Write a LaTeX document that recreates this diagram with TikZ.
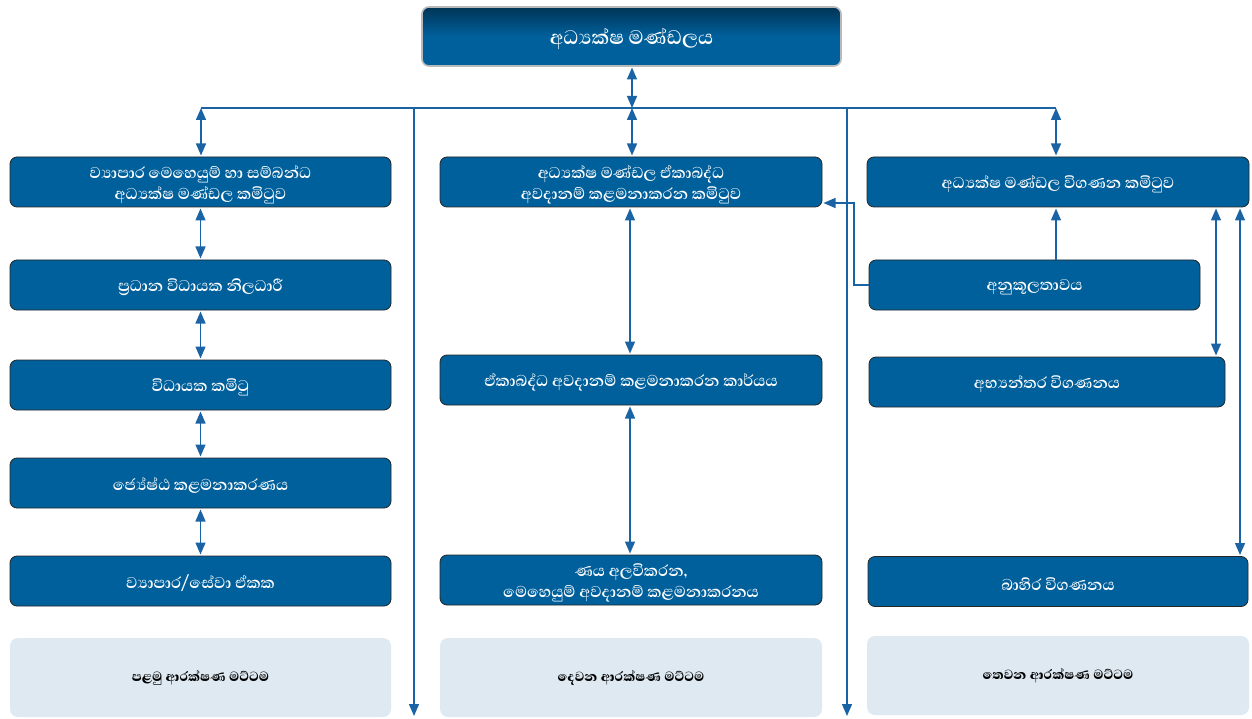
\documentclass[tikz,border=0pt]{standalone}
\usepackage{fontspec}
\newfontfamily\sinhfont[Script=Sinhala]{Abhaya Libre}
\newfontfamily\sinhxb[Script=Sinhala]{Abhaya Libre ExtraBold}
\usetikzlibrary{arrows.meta,calc}
\definecolor{boxblue}{HTML}{00609C}
\definecolor{lineblue}{HTML}{1A64A6}
\definecolor{pale}{HTML}{DEE9F2}
\newcommand\dn[1]{\raisebox{-2.5pt}[\height][\depth]{#1}}
\tikzset{
  bx/.style={draw=black!85, line width=0.8pt, fill=boxblue, rounded corners=7pt,
    text=white, font=\sinhfont\bfseries\fontsize{20}{21}\selectfont, align=center,
    inner sep=0pt, outer sep=0pt},
  topbx/.style={bx, draw=gray!55, line width=1.6pt, top color=boxblue!55!black,
    bottom color=boxblue, middle color=boxblue, font=\sinhfont\bfseries\fontsize{25}{27}\selectfont},
  lvl/.style={fill=pale, rounded corners=8pt, text=black,
    font=\sinhxb\fontsize{17}{19}\selectfont, inner sep=0pt, outer sep=0pt},
  ln/.style={draw=lineblue, line width=1.4pt},
  tip/.tip={Triangle[width=10pt,length=12pt]},
  one/.style={ln, -tip},
  dbl/.style={ln, tip-tip, shorten <=1.5pt, shorten >=1.5pt},
}
\begin{document}
\begin{tikzpicture}[x=1pt,y=-1pt]
\useasboundingbox (0,0) rectangle (1252,719);
% top
\node[topbx, minimum width=419pt, minimum height=59pt] (top) at (631.5,36.5) {\dn{අධ්‍යක්ෂ මණ්ඩලය}};
% left column
\node[bx, minimum width=381pt, minimum height=50pt] (L1) at (200.5,182) {\dn{ව්‍යාපාර මෙහෙයුම් හා සම්බන්ධ}\\\dn{අධ්‍යක්ෂ මණ්ඩල කමිටුව}};
\node[bx, minimum width=381pt, minimum height=50pt] (L2) at (200.5,285) {\dn{ප්‍රධාන විධායක නිලධාරී}};
\node[bx, minimum width=381pt, minimum height=50pt] (L3) at (200.5,385) {\dn{විධායක කමිටු}};
\node[bx, minimum width=381pt, minimum height=50pt] (L4) at (200.5,483) {\dn{ජ්‍යේෂ්ඨ කළමනාකරණය}};
\node[bx, minimum width=381pt, minimum height=50pt] (L5) at (200.5,581) {\dn{ව්‍යාපාර/සේවා ඒකක}};
% centre column
\node[bx, minimum width=382pt, minimum height=50pt] (C1) at (631,182) {\dn{අධ්‍යක්ෂ මණ්ඩල ඒකාබද්ධ}\\\dn{අවදානම් කළමනාකරන කමිටුව}};
\node[bx, minimum width=382pt, minimum height=50pt] (C2) at (631,380) {\dn{ඒකාබද්ධ අවදානම් කළමනාකරන කාර්යය}};
\node[bx, minimum width=382pt, minimum height=50pt] (C3) at (631,580) {\dn{ණය අලවිකරන,}\\\dn{මෙහෙයුම් අවදානම් කළමනාකරනය}};
% right column
\node[bx, minimum width=382pt, minimum height=50pt] (R1) at (1058,182) {\dn{අධ්‍යක්ෂ මණ්ඩල විගණන කමිටුව}};
\node[bx, minimum width=331pt, minimum height=50pt] (R2) at (1034.5,285) {\dn{අනුකූලතාවය}};
\node[bx, minimum width=356pt, minimum height=50pt] (R3) at (1047,382) {\dn{අභ්‍යන්තර විගණනය}};
\node[bx, minimum width=380pt, minimum height=50pt] (R4) at (1058,581.5) {\dn{බාහිර විගණනය}};
% level boxes
\node[lvl, minimum width=381pt, minimum height=79pt] (B1) at (200.5,677.5) {පළමු ආරක්ෂණ මට්ටම};
\node[lvl, minimum width=382pt, minimum height=79pt] (B2) at (631,677.5) {දෙවන ආරක්ෂණ මට්ටම};
\node[lvl, minimum width=382pt, minimum height=79pt] (B3) at (1058,675.5) {තෙවන ආරක්ෂණ මට්ටම};
% coordinates
\coordinate (hL) at (201,108);
\coordinate (hC) at (632,108);
\coordinate (hR) at (1056,108);
\coordinate (v1) at (414,108);
\coordinate (v2) at (847,108);
\coordinate (e1) at (414,716);
\coordinate (e2) at (847,716);
\coordinate (k) at (854,203);
\coordinate (xc) at (630,0);
\coordinate (x1) at (1216,0);
\coordinate (x2) at (1240,0);
% connectors
\draw[ln] (hL) -- (hR);
\draw[dbl, shorten >=0pt] (top.south -| hC) -- (hC);
\draw[dbl, shorten <=0pt] (hL) -- (hL |- L1.north);
\draw[dbl, shorten <=0pt] (hC) -- (hC |- C1.north);
\draw[dbl, shorten <=0pt] (hR) -- (hR |- R1.north);
\draw[one] (v1) -- (e1);
\draw[one] (v2) -- (e2);
\draw[dbl] (L1) -- (L2);
\draw[dbl] (L2) -- (L3);
\draw[dbl] (L3) -- (L4);
\draw[dbl] (L4) -- (L5);
\draw[dbl] (C1.south -| xc) -- (C2.north -| xc);
\draw[dbl] (C2.south -| xc) -- (C3.north -| xc);
\draw[one, shorten >=1.5pt] (R2.north -| hR) -- (R1.south -| hR);
\draw[one, shorten >=1.5pt] (R2.west) -| (k) -- (k -| C1.east);
\draw[dbl] (R1.south -| x1) -- (R3.north -| x1);
\draw[dbl] (R1.south -| x2) -- (R4.north -| x2);
\end{tikzpicture}
\end{document}
